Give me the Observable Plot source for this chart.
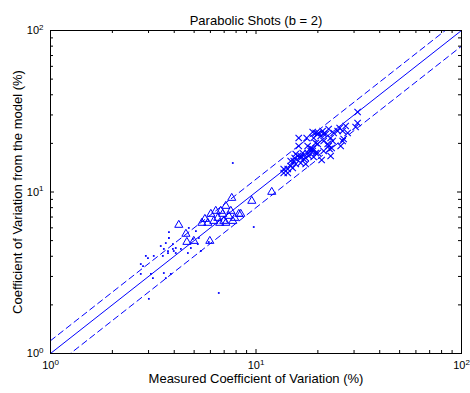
<!DOCTYPE html>
<html><head><meta charset="utf-8">
<script src="https://cdn.jsdelivr.net/npm/d3@7"></script>
<script src="https://cdn.jsdelivr.net/npm/@observablehq/plot@0.6"></script>
<style>
body{margin:0;background:#fff;}
#chart svg{font-family:"Liberation Sans",Arial,Helvetica,sans-serif;}
</style></head><body><div id="chart"></div>
<script>
const titleText = "Parabolic Shots (b = 2)";
const xLabelText = "Measured Coefficient of Variation (%)";
const yLabelText = "Coefficient of Variation from the model (%)";
const majorTicks = [1, 10, 100];
const minorTicks = [2,3,4,5,6,7,8,9,20,30,40,50,60,70,80,90];
const refX = [1, 100];
const bandFactors = [1.2, 0.8];

const dotsX = [3.77,3.77,3.44,3.56,3.73,3.94,4.07,3.52,3.18,2.98,2.91,2.75,2.82,3.08,3.15,2.75,3.85,3.64,3.56,3.01,3.64,3.94,4.07,3.98,3.73,4.31,4.82,4.93,4.71,5.10,5.27,5.21,4.66,5.39,6.59,9.75,7.71,5.89];
const dotsY = [5.65,5.19,4.63,4.44,4.31,4.44,4.19,4.02,4.02,3.90,4.02,3.58,3.48,3.11,2.93,3.11,3.11,2.93,3.15,2.18,4.83,4.76,4.50,4.31,4.19,4.44,4.50,5.12,5.99,5.73,5.19,4.76,4.19,4.31,2.37,6.07,15.12,4.90];

const triX = [4.21,4.56,4.98,4.61,5.96,5.45,6.03,6.74,7.13,7.54,8.25,7.88,7.13,6.23,6.52,6.89,5.83,7.62,9.54,11.93,8.43,6.97,6.37,7.37,6.66,5.64,7.71];
const triY = [6.25,5.50,4.97,4.90,4.97,6.43,7.31,7.63,8.19,7.63,7.31,6.90,6.43,6.61,6.90,7.31,6.43,9.18,8.80,10.0,7.31,6.61,7.63,7.10,6.43,6.80,6.61];

const crossX = [16.14,17.65,18.87,19.52,19.96,19.08,21.10,21.83,21.34,22.32,23.08,23.87,25.53,26.40,23.34,19.52,18.45,18.87,17.84,16.87,15.96,16.50,17.06,18.05,15.26,14.75,15.61,16.50,19.52,21.34,23.08,20.87,17.45,14.27,31.22,30.53,27.92,27.31,25.82,20.64,19.96,19.08,31.22,26.70,23.60,22.57,16.14,18.45,17.45,15.09,13.64,14.75,19.96,24.96,22.57,21.34,20.18,17.84,18.87,16.50,15.61,22.82,26.40,15.43,14.27,13.64];
const crossY = [21.60,21.60,23.52,23.19,22.86,21.60,23.86,22.86,20.69,19.83,21.60,23.19,24.91,20.69,18.73,20.11,18.73,17.94,17.43,17.43,16.71,16.24,16.01,16.71,15.56,14.49,14.91,15.12,17.43,17.94,16.71,15.78,14.91,13.88,26.75,25.26,23.19,25.63,19.27,22.22,19.83,16.47,31.29,21.29,20.69,19.27,19.27,17.94,16.24,14.08,13.88,15.56,17.43,23.86,24.55,22.86,23.19,19.27,18.46,16.71,17.19,18.46,23.86,16.24,13.11,13.11];

const blue = "#0000ff";
const dots = dotsX.map((x, i) => ({x, y: dotsY[i]}));
const tris = triX.map((x, i) => ({x, y: triY[i]}));
const crosses = crossX.map((x, i) => ({x, y: crossY[i]}));
const identity = refX.map(x => ({x, y: x}));
const band = bandFactors.flatMap(f => refX.map(x => ({x, y: x * f, f})));

const W = 470, H = 393, mT = 30, mB = 40, mL = 50, mR = 9;
const fh = H - mT - mB, fw = W - mL - mR;
const majLen = 4, minLen = 3;
const fmt = d => "10^" + Math.round(Math.log10(d));

const chart = Plot.plot({
  width: W, height: H,
  marginLeft: mL, marginRight: mR, marginTop: mT, marginBottom: mB,
  style: {fontFamily: '"Liberation Sans",Arial,Helvetica,sans-serif', fontSize: "11px", background: "white", color: "black"},
  x: {type: "log", domain: [1, 100]},
  y: {type: "log", domain: [1, 100]},
  marks: [
    Plot.line(identity, {x: "x", y: "y", stroke: blue, strokeWidth: 1, clip: true}),
    Plot.line(band, {x: "x", y: "y", z: "f", stroke: blue, strokeWidth: 1, strokeDasharray: "6,4", clip: true}),
    Plot.dot(dots, {x: "x", y: "y", symbol: "square", r: 1, fill: blue, stroke: "none"}),
    Plot.dot(tris, {x: "x", y: "y", symbol: "triangle", r: 3, stroke: blue, fill: "none", strokeWidth: 1}),
    Plot.dot(crosses, {x: "x", y: "y", symbol: "times", r: 3, stroke: blue, strokeWidth: 1.1}),
    // inward ticks on all four sides
    Plot.tickX(majorTicks, {x: d => d, insetTop: fh - majLen, stroke: "black"}),
    Plot.tickX(majorTicks, {x: d => d, insetBottom: fh - majLen, stroke: "black"}),
    Plot.tickX(minorTicks, {x: d => d, insetTop: fh - minLen, stroke: "black"}),
    Plot.tickX(minorTicks, {x: d => d, insetBottom: fh - minLen, stroke: "black"}),
    Plot.tickY(majorTicks, {y: d => d, insetRight: fw - majLen, stroke: "black"}),
    Plot.tickY(majorTicks, {y: d => d, insetLeft: fw - majLen, stroke: "black"}),
    Plot.tickY(minorTicks, {y: d => d, insetRight: fw - minLen, stroke: "black"}),
    Plot.tickY(minorTicks, {y: d => d, insetLeft: fw - minLen, stroke: "black"}),
    Plot.axisX({ticks: majorTicks, tickSize: 0, tickPadding: 8, tickFormat: fmt, label: null}),
    Plot.axisY({ticks: majorTicks, tickSize: 0, tickPadding: 7, tickFormat: fmt, label: null}),
    Plot.frame({stroke: "black", strokeWidth: 1}),
    Plot.text([titleText], {frameAnchor: "top", dy: -14.5, fontSize: 13, fill: "black"}),
    Plot.text([xLabelText], {frameAnchor: "bottom", dy: 29, fontSize: 13, fill: "black"}),
    Plot.text([yLabelText], {frameAnchor: "left", textAnchor: "middle", dx: -32.5, rotate: -90, fontSize: 13, fill: "black"})
  ]
});

document.getElementById("chart").appendChild(chart);

// turn "10^k" tick labels into 10 with superscript exponent
d3.select(chart).selectAll('g[aria-label="x-axis tick label"] text, g[aria-label="y-axis tick label"] text').each(function() {
  const t = d3.select(this);
  const s = t.text();
  const m = s.match(/^10\^(-?\d+)$/);
  if (!m) return;
  t.text("10");
  t.append("tspan").attr("dy", "-0.55em").attr("font-size", "8px").text(m[1]);
});
</script>
</body></html>
